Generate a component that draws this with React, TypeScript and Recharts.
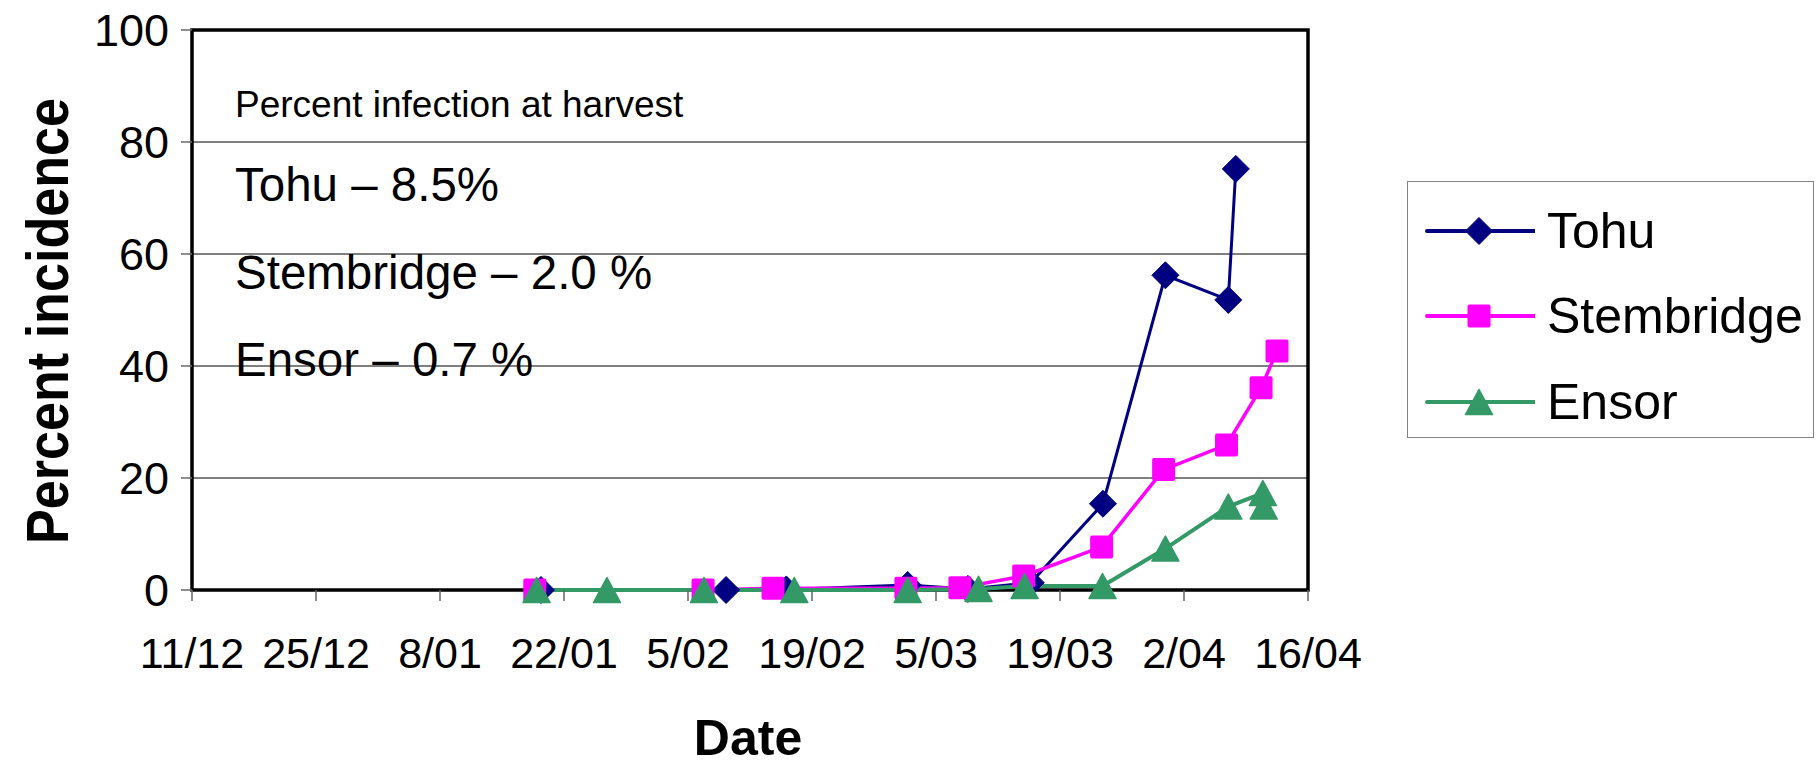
import React from 'react';
import {
  LineChart,
  Line,
  XAxis,
  YAxis,
  CartesianGrid,
  ReferenceArea,
  Legend,
  Customized,
} from 'recharts';

// x values are days counted from 11/12
const dateTicks = [0, 14, 28, 42, 56, 70, 84, 98, 112, 126];
const dateLabels = ['11/12', '25/12', '8/01', '22/01', '5/02', '19/02', '5/03', '19/03', '2/04', '16/04'];
const percentTicks = [0, 20, 40, 60, 80, 100];

const tohuDays = [39.4, 60.3, 67.1, 80.8, 87.6, 94.7, 102.85, 109.9, 117.0, 117.85];
const tohuValues = [0, 0, 0.1, 0.9, 0.2, 1.3, 15.4, 56.2, 51.8, 75.2];

const stembridgeDays = [38.7, 57.7, 65.6, 80.6, 86.7, 93.9, 102.7, 109.7, 116.8, 120.7, 122.5];
const stembridgeValues = [0, 0, 0.3, 0.3, 0.4, 2.5, 7.7, 21.5, 25.9, 36.1, 42.7];

const ensorDays = [38.9, 46.85, 57.8, 68.0, 80.8, 88.8, 94.0, 102.8, 109.9, 117.0, 120.9, 121.0];
const ensorValues = [0, 0, 0, 0, 0, 0.2, 0.7, 0.7, 7.4, 14.9, 17.3, 14.9];

const harvestNotes = ['Tohu – 8.5%', 'Stembridge – 2.0 %', 'Ensor – 0.7 %'];

const FONT = 'Arial, "Liberation Sans", sans-serif';
const NAVY = '#000080';
const MAGENTA = '#FF00FF';
const GREEN = '#339966';

const toRows = (days: number[], values: number[]) =>
  days.map((d, i) => ({ d, v: values[i] }));

type Shape = 'diamond' | 'square' | 'triangle';

function Marker({ cx, cy, shape, color }: { cx: number; cy: number; shape: Shape; color: string }) {
  if (shape === 'diamond') {
    const r = 13.5;
    return (
      <path
        d={`M${cx},${cy - r}L${cx + r},${cy}L${cx},${cy + r}L${cx - r},${cy}Z`}
        fill={color}
        stroke={color}
        strokeLinejoin="round"
        strokeWidth={1}
      />
    );
  }
  if (shape === 'square') {
    const s = 23;
    return <rect x={cx - s / 2} y={cy - s / 2} width={s} height={s} rx={2} fill={color} />;
  }
  const w = 27;
  const h = 25;
  return (
    <path
      d={`M${cx},${cy - h / 2}L${cx + w / 2},${cy + h / 2}L${cx - w / 2},${cy + h / 2}Z`}
      fill={color}
      stroke={color}
      strokeLinejoin="round"
      strokeWidth={1.5}
    />
  );
}

const series = [
  { name: 'Tohu', data: toRows(tohuDays, tohuValues), color: NAVY, shape: 'diamond' as Shape, width: 3 },
  { name: 'Stembridge', data: toRows(stembridgeDays, stembridgeValues), color: MAGENTA, shape: 'square' as Shape, width: 3.5 },
  { name: 'Ensor', data: toRows(ensorDays, ensorValues), color: GREEN, shape: 'triangle' as Shape, width: 4 },
];

function renderLegend() {
  return (
    <div
      style={{
        width: 407,
        height: 257,
        boxSizing: 'border-box',
        border: '1.5px solid #808080',
        background: '#fff',
        paddingTop: 6,
        fontFamily: FONT,
      }}
    >
      {series.map((s) => (
        <div key={s.name} style={{ height: 85.6, display: 'flex', alignItems: 'center' }}>
          <svg width={127} height={40} style={{ flex: 'none' }}>
            <line x1={19} y1={20} x2={127} y2={20} stroke={s.color} strokeWidth={4} strokeLinecap="round" />
            <Marker cx={71} cy={20} shape={s.shape} color={s.color} />
          </svg>
          <span style={{ fontSize: 50, marginLeft: 12, color: '#000', lineHeight: 1 }}>{s.name}</span>
        </div>
      ))}
    </div>
  );
}

function Annotations() {
  return (
    <g fontFamily={FONT} fill="#000">
      <text x={235} y={117} fontSize={37}>
        Percent infection at harvest
      </text>
      {harvestNotes.map((t, i) => (
        <text key={t} x={235} y={201 + i * 87.5} fontSize={47.5}>
          {t}
        </text>
      ))}
      <text
        x={68}
        y={321}
        fontSize={60}
        fontWeight="bold"
        textAnchor="middle"
        textLength={446}
        lengthAdjust="spacingAndGlyphs"
        transform="rotate(-90 68 321)"
      >
        Percent incidence
      </text>
      <text x={748} y={755} fontSize={50} fontWeight="bold" textAnchor="middle">
        Date
      </text>
    </g>
  );
}

export default function App() {
  return (
    <div style={{ position: 'absolute', left: 0, top: 0, width: 1818, height: 766, background: '#fff' }}>
      <LineChart width={1818} height={766} margin={{ top: 30, right: 510, bottom: 76, left: 0 }}>
        <CartesianGrid vertical={false} stroke="#000" strokeWidth={1} />
        <XAxis
          type="number"
          dataKey="d"
          domain={[0, 126]}
          ticks={dateTicks}
          allowDataOverflow
          height={100}
          tickSize={11}
          tickMargin={36}
          axisLine={false}
          tickLine={{ stroke: '#666', strokeWidth: 1.5 }}
          tickFormatter={(v: number) => dateLabels[dateTicks.indexOf(v)] ?? ''}
          tick={{ fill: '#000', fontSize: 43, fontFamily: FONT }}
          interval={0}
        />
        <YAxis
          type="number"
          domain={[0, 100]}
          ticks={percentTicks}
          width={192}
          tickSize={11}
          tickMargin={12}
          axisLine={false}
          tickLine={{ stroke: '#666', strokeWidth: 1.5 }}
          tick={{ fill: '#000', fontSize: 45, fontFamily: FONT }}
          interval={0}
        />
        <ReferenceArea
          x1={0}
          x2={126}
          y1={0}
          y2={100}
          fill="none"
          stroke="#000"
          strokeWidth={3.5}
          ifOverflow="visible"
        />
        {series.map((s) => (
          <Line
            key={s.name}
            name={s.name}
            data={s.data}
            dataKey="v"
            type="linear"
            stroke={s.color}
            strokeWidth={s.width}
            isAnimationActive={false}
            dot={(p: any) => (
              <Marker key={`${s.name}-${p.index}`} cx={p.cx} cy={p.cy} shape={s.shape} color={s.color} />
            )}
            activeDot={false}
          />
        ))}
        <Legend
          layout="vertical"
          align="center"
          verticalAlign="middle"
          content={renderLegend}
          wrapperStyle={{ left: 1407, top: 181, width: 407, height: 257 }}
        />
        <Customized component={Annotations} />
      </LineChart>
    </div>
  );
}
